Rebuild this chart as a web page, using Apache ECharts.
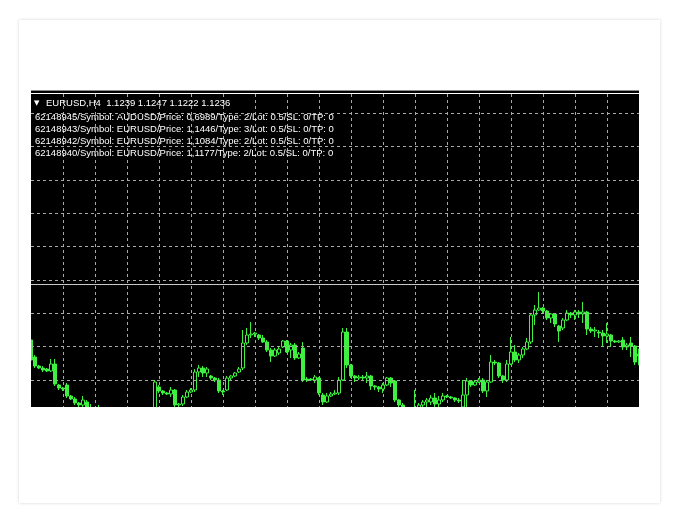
<!DOCTYPE html>
<html>
<head>
<meta charset="utf-8">
<script src="https://cdn.jsdelivr.net/npm/echarts/dist/echarts.min.js"></script>
<style>
  html, body { margin: 0; padding: 0; background: #ffffff; width: 683px; height: 529px; overflow: hidden; }
  #card { position: absolute; left: 19px; top: 20px; width: 641px; height: 483px; background: #fff;
          box-shadow: 0 0 3px rgba(0,0,0,0.18); }
  #chart { position: absolute; left: 0; top: 0; width: 683px; height: 529px; }
</style>
</head>
<body>
<div id="card"></div>
<div id="chart"></div>
<script>
// ---- data (EURUSD, H4) ----
const opens = [1.12600,1.12345,1.12210,1.12180,1.12165,1.12135,1.12240,1.11925,1.11880,1.11925,
1.11760,1.11715,1.11655,1.11625,1.11670,1.11550,1.11430,1.11370,1.11460,1.11325,
1.11250,1.11280,1.11175,1.11220,1.11130,1.11190,1.11280,1.11220,1.11340,1.11400,
1.11370,1.11520,1.11895,1.11835,1.11805,1.11790,1.11850,1.11625,1.11640,1.11745,
1.11820,1.11850,1.12120,1.12180,1.12105,1.12060,1.12030,1.12000,1.11835,1.11850,
1.12030,1.12060,1.12120,1.12180,1.12555,1.12675,1.12690,1.12675,1.12630,1.12570,
1.12450,1.12360,1.12405,1.12495,1.12585,1.12450,1.12525,1.12330,1.12480,1.12015,
1.12015,1.12000,1.12030,1.11775,1.11670,1.11760,1.11790,1.11805,1.12000,1.12720,
1.12225,1.12060,1.12030,1.12045,1.12030,1.12060,1.11910,1.11895,1.11865,1.11925,
1.12030,1.11985,1.11700,1.11625,1.11475,1.11430,1.11520,1.11580,1.11625,1.11670,
1.11670,1.11730,1.11640,1.11700,1.11760,1.11745,1.11730,1.11700,1.11595,1.11775,
1.11985,1.11925,1.11970,1.12000,1.11835,1.11970,1.12270,1.12255,1.12060,1.12000,
1.12240,1.12420,1.12300,1.12375,1.12465,1.12570,1.12975,1.13050,1.13080,1.13035,
1.12930,1.12990,1.12810,1.12780,1.12900,1.13005,1.12975,1.13020,1.12990,1.13020,
1.12765,1.12735,1.12720,1.12705,1.12660,1.12675,1.12585,1.12570,1.12600,1.12495,
1.12555,1.12510,1.12390];
const closes = [1.12300,1.12210,1.12180,1.12150,1.12135,1.12240,1.11940,1.11880,1.11865,1.11760,
1.11715,1.11655,1.11625,1.11700,1.11550,1.11430,1.11370,1.11460,1.11325,1.11250,
1.11280,1.11175,1.11220,1.11130,1.11190,1.11280,1.11220,1.11340,1.11400,1.11370,
1.11520,1.11970,1.11835,1.11805,1.11790,1.11850,1.11625,1.11640,1.11745,1.11820,
1.11850,1.12120,1.12180,1.12105,1.12165,1.12030,1.12000,1.11835,1.11820,1.12030,
1.12060,1.12105,1.12165,1.12555,1.12675,1.12690,1.12705,1.12630,1.12570,1.12450,
1.12360,1.12450,1.12465,1.12585,1.12420,1.12525,1.12330,1.12390,1.12000,1.12000,
1.12000,1.12045,1.11805,1.11670,1.11760,1.11790,1.11805,1.12000,1.12720,1.12225,
1.12060,1.12030,1.12045,1.12030,1.12060,1.11910,1.11895,1.11865,1.11925,1.12030,
1.11955,1.11700,1.11625,1.11475,1.11430,1.11520,1.11580,1.11625,1.11670,1.11700,
1.11730,1.11640,1.11700,1.11760,1.11745,1.11730,1.11700,1.11685,1.11775,1.11985,
1.11925,1.11970,1.12000,1.11835,1.11970,1.12270,1.12255,1.12060,1.12000,1.12240,
1.12420,1.12300,1.12375,1.12465,1.12570,1.12975,1.13050,1.13080,1.13035,1.12930,
1.12990,1.12840,1.12735,1.12900,1.13005,1.12975,1.13020,1.12990,1.13020,1.12765,
1.12735,1.12750,1.12705,1.12660,1.12690,1.12585,1.12570,1.12585,1.12495,1.12525,
1.12510,1.12270,1.12360];
const lows = [1.12240,1.12180,1.12165,1.12120,1.12120,1.12120,1.11910,1.11850,1.11835,1.11730,
1.11700,1.11625,1.11565,1.11550,1.11505,1.11400,1.11310,1.11325,1.11280,1.11190,
1.11160,1.11100,1.11100,1.11070,1.11040,1.11130,1.11160,1.11175,1.11280,1.11310,
1.11325,1.11490,1.11805,1.11775,1.11775,1.11745,1.11580,1.11580,1.11610,1.11730,
1.11805,1.11820,1.12045,1.12045,1.12045,1.12000,1.11970,1.11805,1.11775,1.11835,
1.12000,1.12045,1.12105,1.12150,1.12525,1.12630,1.12645,1.12600,1.12555,1.12420,
1.12270,1.12345,1.12375,1.12480,1.12405,1.12330,1.12300,1.12315,1.11970,1.11970,
1.11985,1.11955,1.11775,1.11625,1.11655,1.11745,1.11775,1.11775,1.11985,1.12180,
1.12030,1.11970,1.12000,1.12000,1.11955,1.11850,1.11850,1.11820,1.11805,1.11910,
1.11895,1.11670,1.11550,1.11430,1.11370,1.11400,1.11490,1.11550,1.11565,1.11580,
1.11625,1.11550,1.11580,1.11670,1.11730,1.11715,1.11670,1.11655,1.11550,1.11595,
1.11895,1.11910,1.11955,1.11805,1.11745,1.11955,1.12225,1.12030,1.11955,1.11970,
1.12225,1.12270,1.12255,1.12330,1.12450,1.12540,1.12825,1.13035,1.13005,1.12900,
1.12855,1.12795,1.12570,1.12750,1.12885,1.12930,1.12900,1.12930,1.12855,1.12675,
1.12705,1.12645,1.12630,1.12495,1.12555,1.12495,1.12555,1.12555,1.12450,1.12450,
1.12345,1.12225,1.12220];
const highs = [1.12630,1.12375,1.12225,1.12210,1.12180,1.12315,1.12315,1.11940,1.11895,1.11955,
1.11775,1.11745,1.11670,1.11760,1.11700,1.11640,1.11520,1.11625,1.11520,1.11400,
1.11370,1.11325,1.11280,1.11250,1.11250,1.11340,1.11370,1.11430,1.11490,1.11520,
1.11565,1.12000,1.11925,1.11850,1.11820,1.11895,1.11865,1.11655,1.11775,1.11850,
1.11880,1.12165,1.12225,1.12210,1.12195,1.12075,1.12045,1.12030,1.11850,1.12060,
1.12075,1.12120,1.12195,1.12750,1.12780,1.12870,1.12720,1.12690,1.12675,1.12600,
1.12480,1.12480,1.12495,1.12600,1.12600,1.12555,1.12555,1.12420,1.12570,1.12045,
1.12030,1.12075,1.12045,1.11805,1.11805,1.11820,1.11850,1.12045,1.12780,1.12780,
1.12240,1.12075,1.12075,1.12075,1.12120,1.12075,1.11925,1.11910,1.11955,1.12045,
1.12045,1.12000,1.11715,1.11655,1.11550,1.11580,1.11850,1.11655,1.11700,1.11730,
1.11775,1.11805,1.11760,1.11805,1.11775,1.11760,1.11745,1.11730,1.12000,1.12030,
1.12000,1.12000,1.12030,1.12030,1.12000,1.12375,1.12300,1.12270,1.12075,1.12300,
1.12645,1.12525,1.12405,1.12495,1.12630,1.13005,1.13125,1.13320,1.13095,1.13050,
1.13005,1.13005,1.12825,1.12930,1.13050,1.13020,1.13050,1.13050,1.13170,1.13035,
1.12795,1.12795,1.12750,1.12750,1.12855,1.12690,1.12600,1.12600,1.12645,1.12555,
1.12645,1.12525,1.12470];
const categories = opens.map((_, i) => 'bar ' + (i + 1));
const gridLevels = [1.1200, 1.1250, 1.1300, 1.1350, 1.1400, 1.1450, 1.1500, 1.1550, 1.1600];
const levelLine = [1.13436];
const priceMin = 1.11595;
const priceMax = 1.16290;
const headerLine = 'EURUSD,H4  1.1239 1.1247 1.1222 1.1236';
const orderLines = [
  '62148945/Symbol: AUDUSD/Price: 0,6989/Type: 2/Lot: 0.5/SL: 0/TP: 0',
  '62148943/Symbol: EURUSD/Price: 1,1446/Type: 3/Lot: 0.5/SL: 0/TP: 0',
  '62148942/Symbol: EURUSD/Price: 1,1084/Type: 2/Lot: 0.5/SL: 0/TP: 0',
  '62148940/Symbol: EURUSD/Price: 1,1177/Type: 2/Lot: 0.5/SL: 0/TP: 0'
];

// ---- chart ----
const GREEN = '#40f040';
const GRIDC = '#a8a8a8';
const FONT = '9.5px "Liberation Sans", Arial, sans-serif';
const candleData = opens.map((o, i) => [o, closes[i], lows[i], highs[i]]);

const textEls = [
  { type: 'text', z: 100, style: { text: '\u25BC', x: 34, y: 103, fill: '#fff', font: '7px "DejaVu Sans"', verticalAlign: 'middle', textVerticalAlign: 'middle' } },
  { type: 'text', z: 100, style: { text: headerLine, x: 46, y: 103, fill: '#fff', font: FONT, verticalAlign: 'middle', textVerticalAlign: 'middle' } }
];
const lineYs = [117, 129, 141, 153];
orderLines.forEach((t, k) => {
  textEls.push({ type: 'text', z: 100, style: { text: t, x: 35, y: lineYs[k], fill: '#fff', font: FONT, verticalAlign: 'middle', textVerticalAlign: 'middle' } });
});

const chart = echarts.init(document.getElementById('chart'), null, { renderer: 'canvas' });
chart.setOption({
  animation: false,
  backgroundColor: 'transparent',
  grid: { left: 31, right: 44, top: 94, bottom: 122, show: true, backgroundColor: '#000', borderWidth: 0 },
  xAxis: {
    type: 'category', data: categories, boundaryGap: false,
    axisLine: { show: false }, axisTick: { show: false }, axisLabel: { show: false },
    splitLine: { show: true, interval: (idx) => idx % 8 === 0 && idx > 0 && idx < categories.length - 1,
                 lineStyle: { color: GRIDC, type: [3, 3], width: 1 } }
  },
  yAxis: {
    type: 'value', min: priceMin, max: priceMax,
    axisLine: { show: false }, axisTick: { show: false }, axisLabel: { show: false },
    splitLine: { show: false }
  },
  series: [{
    type: 'candlestick',
    data: candleData,
    barWidth: 3,
    clip: true,
    itemStyle: { color: '#000', color0: GREEN, borderColor: GREEN, borderColor0: GREEN, borderWidth: 1 },
    markLine: {
      silent: true, symbol: 'none', animation: false, precision: 6,
      label: { show: false },
      data: gridLevels.map(v => ({ yAxis: v, lineStyle: { color: GRIDC, type: [3, 3], width: 1 } }))
        .concat(levelLine.map(v => ({ yAxis: v, lineStyle: { color: '#c8c8c8', type: 'solid', width: 1 } })))
    }
  }],
  graphic: [
    { type: 'rect', z: 50, shape: { x: 31, y: 90, width: 608, height: 1 }, style: { fill: '#8a8a8a' } },
    { type: 'rect', z: 50, shape: { x: 31, y: 91, width: 608, height: 2 }, style: { fill: '#000' } },
    { type: 'rect', z: 50, shape: { x: 31, y: 93, width: 608, height: 1 }, style: { fill: '#fff' } },
    // card-coloured margins that hide candle parts running past the chart window
    { type: 'rect', z: 50, shape: { x: 22, y: 407, width: 635, height: 40 }, style: { fill: '#fff' } },
    { type: 'rect', z: 50, shape: { x: 22, y: 94, width: 9, height: 313 }, style: { fill: '#fff' } },
    { type: 'rect', z: 50, shape: { x: 639, y: 94, width: 9, height: 313 }, style: { fill: '#fff' } }
  ].concat(textEls)
});
</script>
</body>
</html>
